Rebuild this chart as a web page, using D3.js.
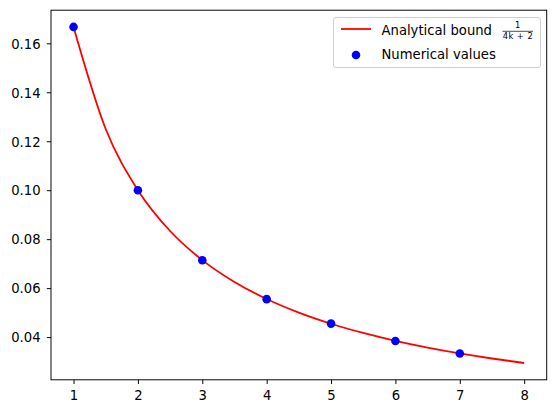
<!DOCTYPE html>
<html><head><meta charset="utf-8">
<script src="https://cdn.jsdelivr.net/npm/d3@7"></script>
<style>body{margin:0;background:#fff}</style>
</head><body><svg id="c" width="556" height="413" font-family="DejaVu Sans"></svg>
<script>
// Analytical bound curve samples (k, value)
const curveK = [1,1.5,2,2.5,3,3.5,4,4.5,5,5.5,6,6.5,7,7.5,8];
const curveV = [0.16667,0.125,0.1,0.08333,0.07143,0.0625,0.05556,0.05,0.04545,0.04167,0.03846,0.03571,0.03333,0.03125,0.02941];
// Numerical values
const pointK = [1,2,3,4,5,6,7];
const pointV = [0.1667,0.1,0.0714,0.0555,0.0455,0.0384,0.0333];
const xTicks = [1,2,3,4,5,6,7,8];
const yTicks = [0.04,0.06,0.08,0.10,0.12,0.14,0.16];

const FF = "DejaVu Sans", FS = 13.2;
const svg = d3.select("#c");
const L=51, R=546.7, T=10.2, B=379.8;
const x = d3.scaleLinear().domain([0.65,8.35]).range([L,R]);
const y = d3.scaleLinear().domain([0.022549,0.173529]).range([B,T]);

const line = d3.line().x((d,i)=>x(curveK[i])).y(d=>y(d)).curve(d3.curveMonotoneX);
svg.append("path").attr("d",line(curveV)).attr("fill","none").attr("stroke","#ff0000").attr("stroke-width",1.8);

svg.selectAll("circle.pt").data(pointV).join("circle").attr("class","pt")
  .attr("cx",(d,i)=>x(pointK[i])).attr("cy",d=>y(d)).attr("r",4.3).attr("fill","#0000ff");

const xa = svg.append("g").attr("transform",`translate(0,${B})`)
  .call(d3.axisBottom(x).tickValues(xTicks).tickSize(4.2).tickPadding(5.4).tickFormat(d3.format("d")));
const ya = svg.append("g").attr("transform",`translate(${L},0)`)
  .call(d3.axisLeft(y).tickValues(yTicks).tickSize(4.2).tickPadding(6.2).tickFormat(d3.format(".2f")));
[xa,ya].forEach(a=>{a.attr("font-family",FF).attr("font-size",FS);a.select(".domain").remove();a.selectAll("text").attr("font-family",FF).attr("font-size",FS).attr("fill","#000");a.selectAll("line").attr("stroke","#000").attr("stroke-width",0.97);});
xa.selectAll("text").attr("dy","0.8em");
ya.selectAll("text").attr("dy","0.36em");

svg.append("rect").attr("x",L).attr("y",T).attr("width",R-L).attr("height",B-T)
  .attr("fill","none").attr("stroke","#000").attr("stroke-width",0.97);

// legend
const lg = svg.append("g").attr("font-family",FF);
lg.append("rect").attr("x",333.5).attr("y",17.5).attr("width",207).attr("height",50).attr("rx",2.5)
  .attr("fill","#fff").attr("fill-opacity",0.8).attr("stroke","#cccccc").attr("stroke-width",0.97);
lg.append("line").attr("x1",341).attr("x2",371).attr("y1",29).attr("y2",29).attr("stroke","#ff0000").attr("stroke-width",1.8);
lg.append("text").attr("x",381.5).attr("y",34.5).attr("font-size",FS).attr("font-family",FF).text("Analytical bound");
lg.append("text").attr("x",517.7).attr("y",28.2).attr("font-size",8.3).attr("font-family",FF).attr("text-anchor","middle").text("1");
lg.append("line").attr("x1",502.5).attr("x2",533).attr("y1",31.3).attr("y2",31.3).attr("stroke","#000").attr("stroke-width",0.7);
lg.append("text").attr("x",517.7).attr("y",39.4).attr("font-size",8.3).attr("font-family",FF).attr("text-anchor","middle").attr("textLength",30).attr("lengthAdjust","spacing").text("4k + 2");
lg.append("circle").attr("cx",356).attr("cy",55).attr("r",4.3).attr("fill","#0000ff");
lg.append("text").attr("x",381.5).attr("y",59).attr("font-size",FS).attr("font-family",FF).text("Numerical values");
</script></body></html>
